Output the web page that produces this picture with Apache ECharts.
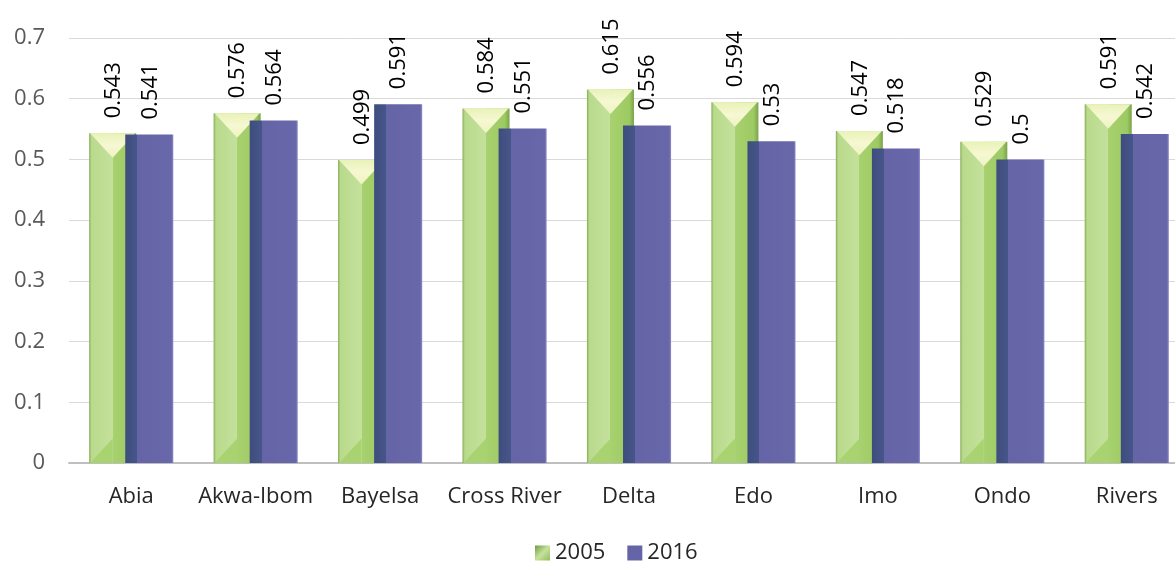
<!DOCTYPE html>
<html>
<head>
<meta charset="utf-8">
<script src="https://cdn.jsdelivr.net/npm/echarts@6/dist/echarts.min.js"></script>
<style>
  html, body { margin: 0; padding: 0; background: #ffffff; }
  #chart { width: 1175px; height: 562px; }
</style>
</head>
<body>
<div id="chart"></div>
<script>
// Human Development Index by state, 2005 vs 2016
const categories = ['Abia', 'Akwa-Ibom', 'Bayelsa', 'Cross River', 'Delta', 'Edo', 'Imo', 'Ondo', 'Rivers'];
const values2005 = [0.543, 0.576, 0.499, 0.584, 0.615, 0.594, 0.547, 0.529, 0.591];
const values2016 = [0.541, 0.564, 0.591, 0.551, 0.556, 0.53, 0.518, 0.5, 0.542];
const yMin = 0, yMax = 0.7, yStep = 0.1;

const FONT = '"Open Sans", "Noto Sans", sans-serif';

// bar placement as fractions of one category band
const GREEN_OFF = -0.338, GREEN_W = 0.378;
const BLUE_OFF = -0.048, BLUE_W = 0.386;

function valueLabel(cx, y, v) {
  return {
    type: 'text',
    x: cx, y: y - 15,
    rotation: Math.PI / 2,
    z2: 10,
    style: {
      text: String(v), fill: '#000000',
      fontSize: 22, fontFamily: FONT,
      align: 'left', verticalAlign: 'middle'
    }
  };
}

function renderGreen(params, api) {
  const i = api.value(0), v = api.value(1);
  const top = api.coord([i, v]);
  const base = api.coord([i, 0]);
  const band = api.size([1, 0])[0];
  const x0 = top[0] + GREEN_OFF * band;
  const w = GREEN_W * band;
  const y0 = top[1];
  const h = base[1] - top[1];
  const mid = x0 + w / 2;
  const bev = w * 0.52;
  return {
    type: 'group',
    children: [
      {
        type: 'rect',
        shape: { x: x0, y: y0, width: w, height: h },
        style: {
          fill: new echarts.graphic.LinearGradient(0, 0, 1, 0, [
            { offset: 0, color: '#86ad55' },
            { offset: 0.05, color: '#b9da8c' },
            { offset: 0.5, color: '#c4e19c' },
            { offset: 0.5, color: '#a8d16f' },
            { offset: 0.9, color: '#9dca63' },
            { offset: 1, color: '#7ba24c' }
          ])
        }
      },
      {
        type: 'polygon',
        shape: { points: [[x0 + 1, y0], [x0 + w - 1, y0], [mid, y0 + bev]] },
        style: {
          fill: new echarts.graphic.LinearGradient(0, 0, 0, 1, [
            { offset: 0, color: '#e9f2b8' },
            { offset: 0.5, color: '#f6f8d2' },
            { offset: 1, color: '#eef3c2' }
          ])
        }
      },
      {
        type: 'polygon',
        shape: { points: [[x0 + 1, y0 + h], [mid, y0 + h], [mid, y0 + h - bev]] },
        style: { fill: '#a9d271' }
      },
      valueLabel(mid + 1, y0, v)
    ]
  };
}

function renderBlue(params, api) {
  const i = api.value(0), v = api.value(1);
  const top = api.coord([i, v]);
  const base = api.coord([i, 0]);
  const band = api.size([1, 0])[0];
  const x0 = top[0] + BLUE_OFF * band;
  const w = BLUE_W * band;
  const y0 = top[1];
  const h = base[1] - top[1];
  return {
    type: 'group',
    children: [
      {
        type: 'rect',
        shape: { x: x0, y: y0, width: w, height: h },
        style: {
          fill: new echarts.graphic.LinearGradient(0, 0, 1, 0, [
            { offset: 0, color: '#3e4c7e' },
            { offset: 0.25, color: '#475689' },
            { offset: 0.25, color: '#6464a7' },
            { offset: 0.96, color: '#6767a9' },
            { offset: 1, color: '#8c8cc9' }
          ])
        }
      },
      valueLabel(x0 + w / 2 + 1, y0, v)
    ]
  };
}

const chart = echarts.init(document.getElementById('chart'), null, { renderer: 'canvas' });

chart.setOption({
  backgroundColor: '#ffffff',
  animation: false,
  grid: { left: 69, top: 38, width: 1120, height: 425, containLabel: false, outerBoundsMode: 'none' },
  legend: {
    left: 530, top: 537,
    itemWidth: 15, itemHeight: 15, itemGap: 22,
    icon: 'rect',
    textStyle: { fontSize: 22, fontFamily: FONT, color: '#262626' },
    data: [
      { name: '2005', itemStyle: { color: new echarts.graphic.LinearGradient(0, 0, 1, 1, [
        { offset: 0, color: '#6f9a3f' }, { offset: 0.5, color: '#c6e29e' }, { offset: 1, color: '#8fbf58' }
      ]) } },
      { name: '2016', itemStyle: { color: '#6464a7' } }
    ]
  },
  xAxis: {
    type: 'category',
    data: categories,
    axisLine: { lineStyle: { color: '#bfbfbf', width: 2 } },
    axisTick: { show: false },
    axisLabel: { interval: 0, margin: 23, fontSize: 22, fontFamily: FONT, color: '#262626' },
    splitLine: { show: false }
  },
  yAxis: {
    type: 'value',
    min: yMin, max: yMax, interval: yStep,
    axisLine: { show: false },
    axisTick: { show: false },
    axisLabel: {
      margin: 24, fontSize: 22, fontFamily: FONT, color: '#595959',
      formatter: (v) => String(Math.round(v * 10) / 10)
    },
    splitLine: { lineStyle: { color: '#d9d9d9', width: 1 } }
  },
  series: [
    {
      name: '2005', type: 'custom',
      itemStyle: { color: '#a8d16f' },
      renderItem: renderGreen,
      encode: { x: 0, y: 1 },
      data: values2005.map((v, i) => [i, v]),
      z: 2
    },
    {
      name: '2016', type: 'custom',
      itemStyle: { color: '#6464a7' },
      renderItem: renderBlue,
      encode: { x: 0, y: 1 },
      data: values2016.map((v, i) => [i, v]),
      z: 3
    }
  ]
});
</script>
</body>
</html>
